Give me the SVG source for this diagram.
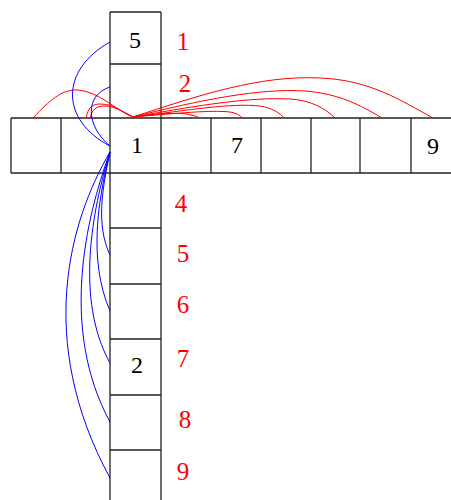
<svg xmlns="http://www.w3.org/2000/svg" width="451" height="500" viewBox="0 0 451 500">
<style>
.grid{stroke:#222;stroke-width:1.3;fill:none}
.num{font-family:"Liberation Serif",serif;font-size:24px;fill:#000;text-anchor:middle}
.lbl{font-family:"Liberation Serif",serif;font-size:25px;fill:#ff0000;text-anchor:middle}
.r{stroke:#ff0000;stroke-width:1;fill:none}
.b{stroke:#0000ff;stroke-width:1;fill:none}
</style>
<rect width="451" height="500" fill="#fff"/>
<g id="grid" class="grid">
<path d="M11,118H451M11,173H451"/>
<path d="M11,118V173M61,118V173M211,118V173M261,118V173M311,118V173M360,118V173M411,118V173"/>
<path d="M110,12V500M161,12V500M110,12H161M110,64H161M110,228H161M110,284H161M110,339H161M110,395H161M110,450H161"/>
</g>
<g id="cells">
<text class="num" x="135" y="48">5</text>
<text class="num" x="137" y="153">1</text>
<text class="num" x="237" y="153">7</text>
<text class="num" x="433" y="154">9</text>
<text class="num" x="137" y="373">2</text>
</g>
<g id="labels">
<text class="lbl" x="183" y="50">1</text>
<text class="lbl" x="185" y="92">2</text>
<text class="lbl" x="181" y="212">4</text>
<text class="lbl" x="183" y="262">5</text>
<text class="lbl" x="183" y="313">6</text>
<text class="lbl" x="183" y="367">7</text>
<text class="lbl" x="185" y="428">8</text>
<text class="lbl" x="183" y="480">9</text>
</g>
<g id="connectors">
<path class="r" d="M33,118 C50,100 62,89 78,90 C100,92 115,110 133,117"/>
<path class="r" d="M86,118 C88,108 92,104 100,104 C115,104 122,112 133,117"/>
<path class="r" d="M90,118 C92,110 96,106 104,106 C116,106 124,113 133,117"/>
<path class="r" d="M133,117 C200,95 260,75 320,78 C370,80 400,100 433,118"/>
<path class="r" d="M133,117 C200,100 260,88 305,91 C340,94 360,105 382,118"/>
<path class="r" d="M133,117 C200,105 250,97 290,99 C310,100 325,108 335,118"/>
<path class="r" d="M133,117 C190,110 230,103 260,106 C272,108 280,113 284,118"/>
<path class="r" d="M133,117 C180,113 210,110 230,112 C236,113 240,115 242,118"/>
<path class="r" d="M133,117 C160,114 185,110 200,118"/>
<path class="b" d="M110,42 C60,70 60,120 110,146"/>
<path class="b" d="M110,87 C85,95 85,125 110,146"/>
<path class="b" d="M110,152 C70,220 35,340 110,478"/>
<path class="b" d="M110,152 C85,220 60,330 110,422"/>
<path class="b" d="M110,152 C92,210 75,300 110,363"/>
<path class="b" d="M110,152 C98,200 88,260 110,311"/>
<path class="b" d="M110,152 C102,190 96,225 110,255"/>
</g>
</svg>
